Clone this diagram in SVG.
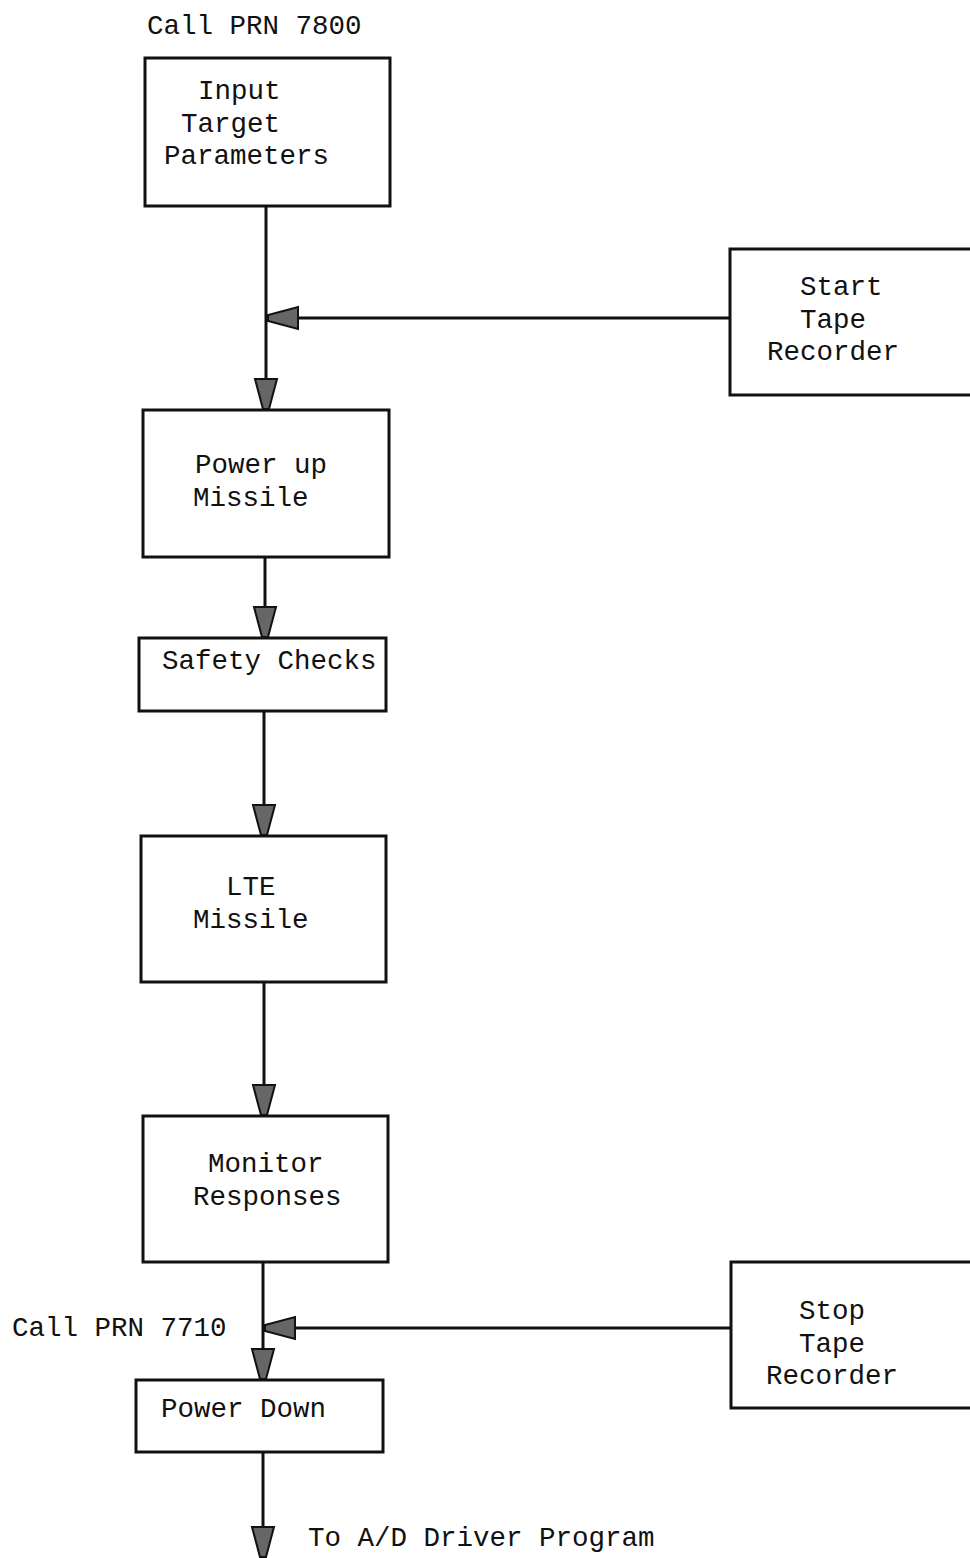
<svg xmlns="http://www.w3.org/2000/svg" width="970" height="1558" viewBox="0 0 970 1558">
<style>
.box{fill:#fff;stroke:#111;stroke-width:3}
.t{font-family:"Liberation Mono","DejaVu Sans Mono",monospace;font-size:27.5px;fill:#111}
.c{fill:none;stroke:#111;stroke-width:3}
</style>
<defs>
<marker id="ah" markerUnits="userSpaceOnUse" markerWidth="34" markerHeight="26" refX="31" refY="13" orient="auto">
<path d="M1,2 L1,24 L31,16 L31,10 Z" fill="#666" stroke="#111" stroke-width="2"/>
</marker>
</defs>
<rect width="970" height="1558" fill="#fff"/>
<g id="connectors">
<path class="c" d="M266,206 V409" marker-end="url(#ah)"/>
<path class="c" d="M730,318 H268" marker-end="url(#ah)"/>
<path class="c" d="M265,557 V637" marker-end="url(#ah)"/>
<path class="c" d="M264,711 V835" marker-end="url(#ah)"/>
<path class="c" d="M264,982 V1115" marker-end="url(#ah)"/>
<path class="c" d="M263,1262 V1379" marker-end="url(#ah)"/>
<path class="c" d="M731,1328 H265" marker-end="url(#ah)"/>
<path class="c" d="M263,1452 V1557" marker-end="url(#ah)"/>
</g>
<g id="label-call7800"><text class="t" x="147" y="34">Call PRN 7800</text></g>
<g id="input-target">
<rect class="box" x="145" y="58" width="245" height="148"/>
<text class="t" x="198" y="99">Input</text>
<text class="t" x="181" y="132">Target</text>
<text class="t" x="164" y="164">Parameters</text>
</g>
<g id="start-tape">
<rect class="box" x="730" y="249" width="243" height="146"/>
<text class="t" x="800" y="295">Start</text>
<text class="t" x="800" y="328">Tape</text>
<text class="t" x="767" y="360">Recorder</text>
</g>
<g id="power-up">
<rect class="box" x="143" y="410" width="246" height="147"/>
<text class="t" x="195" y="473">Power up</text>
<text class="t" x="193" y="506">Missile</text>
</g>
<g id="safety-checks">
<rect class="box" x="139" y="638" width="247" height="73"/>
<text class="t" x="162" y="669">Safety Checks</text>
</g>
<g id="lte-missile">
<rect class="box" x="141" y="836" width="245" height="146"/>
<text class="t" x="226" y="895">LTE</text>
<text class="t" x="193" y="928">Missile</text>
</g>
<g id="monitor-responses">
<rect class="box" x="143" y="1116" width="245" height="146"/>
<text class="t" x="208" y="1172">Monitor</text>
<text class="t" x="193" y="1205">Responses</text>
</g>
<g id="label-call7710"><text class="t" x="12" y="1336">Call PRN 7710</text></g>
<g id="stop-tape">
<rect class="box" x="731" y="1262" width="242" height="146"/>
<text class="t" x="799" y="1319">Stop</text>
<text class="t" x="799" y="1352">Tape</text>
<text class="t" x="766" y="1384">Recorder</text>
</g>
<g id="power-down">
<rect class="box" x="136" y="1380" width="247" height="72"/>
<text class="t" x="161" y="1417">Power Down</text>
</g>
<g id="label-ad"><text class="t" x="308" y="1546">To A/D Driver Program</text></g>
</svg>
